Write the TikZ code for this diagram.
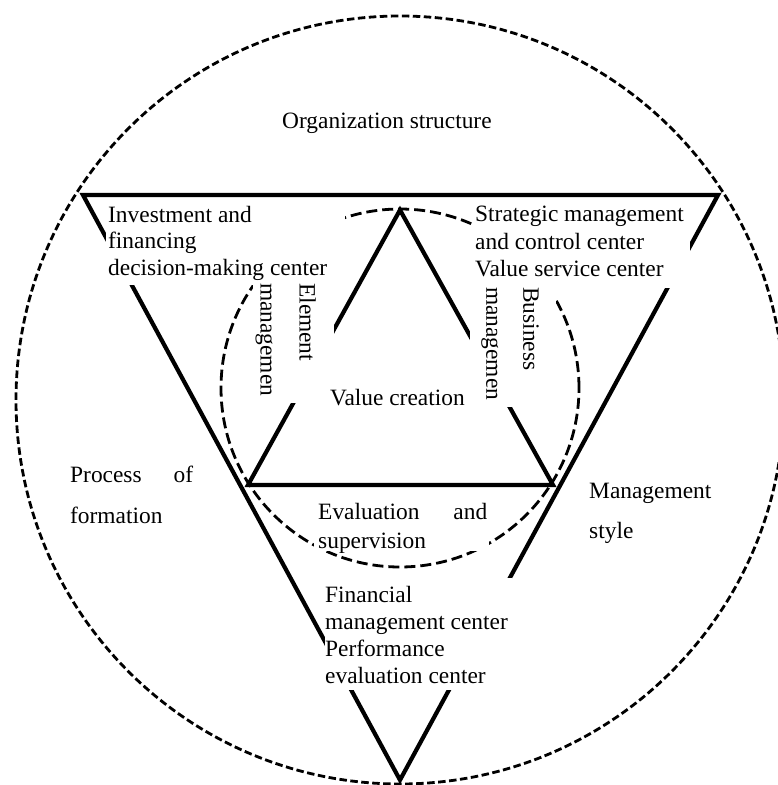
\documentclass[tikz,border=0pt]{standalone}
\usepackage{fontspec}
\setmainfont{Liberation Serif}
\begin{document}
\begin{tikzpicture}[x=1pt,y=-1pt,
  lbl/.style={inner sep=0pt, font=\fontsize{23.4}{27.3}\selectfont, align=left, anchor=north west},
  edge/.style={line width=4.2pt, line join=miter},
  outerring/.style={line width=2.8pt, dash pattern=on 7.5pt off 3.5pt},
  innerring/.style={line width=2.8pt, dash pattern=on 11pt off 5pt},
  blank/.style={fill=white, draw=none}]
\useasboundingbox (0,0) rectangle (778,785);

% dashed rings
\coordinate (oc) at (400,400);
\coordinate (ic) at (400,388);
\draw[outerring] (oc) circle[radius=384pt];
\draw[innerring] (ic) circle[radius=179pt];

% inverted outer triangle
\coordinate (oA) at (83,195);
\coordinate (oB) at (718,195);
\coordinate (oC) at (400,780);
\draw[edge] (oA) -- (oB) -- (oC) -- cycle;

% upright inner triangle
\coordinate (iA) at (400,210);
\coordinate (iB) at (553,485);
\coordinate (iC) at (248,485);
\draw[edge] (iA) -- (iB) -- (iC) -- cycle;

% white text panels laid over the lines
\fill[blank] (106,200) rectangle (345,285);
\fill[blank] (472,200) rectangle (690,288);
\fill[blank] (253,283) rectangle (334,403);
\fill[blank] (470,287) rectangle (556,407);
\fill[blank] (314,497) rectangle (489,551);
\fill[blank] (325,578) rectangle (512,690);

% labels
\node[lbl, anchor=base west] (org) at (282,128) {Organization structure};
\node[lbl, font=\fontsize{23.4}{26.5}\selectfont] (inv) at (108,206)
  {Investment and\\financing\\decision-making center};
\node[lbl, font=\fontsize{23.4}{27.5}\selectfont] (str) at (475,206)
  {Strategic management\\and control center\\Value service center};
\node[lbl, rotate=-90, font=\fontsize{23.4}{39}\selectfont] (elem) at (316,283)
  {Element\\managemen};
\node[lbl, rotate=-90, font=\fontsize{23.4}{37}\selectfont] (bus) at (539,287)
  {Business\\managemen};
\node[lbl, anchor=base west] (val) at (330,405) {Value creation};
\node[lbl, font=\fontsize{23.4}{41}\selectfont] (proc) at (70,466)
  {\makebox[123pt]{Process\hfill of}\\formation};
\node[lbl, font=\fontsize{23.4}{40}\selectfont] (mgmt) at (589,483)
  {Management\\style};
\node[lbl, font=\fontsize{23.4}{29}\selectfont] (eval) at (318,503)
  {\makebox[169pt]{Evaluation\hfill and}\\supervision};
\node[lbl, font=\fontsize{23.4}{27}\selectfont] (fin) at (325,586)
  {Financial\\management center\\Performance\\evaluation center};
\end{tikzpicture}
\end{document}
